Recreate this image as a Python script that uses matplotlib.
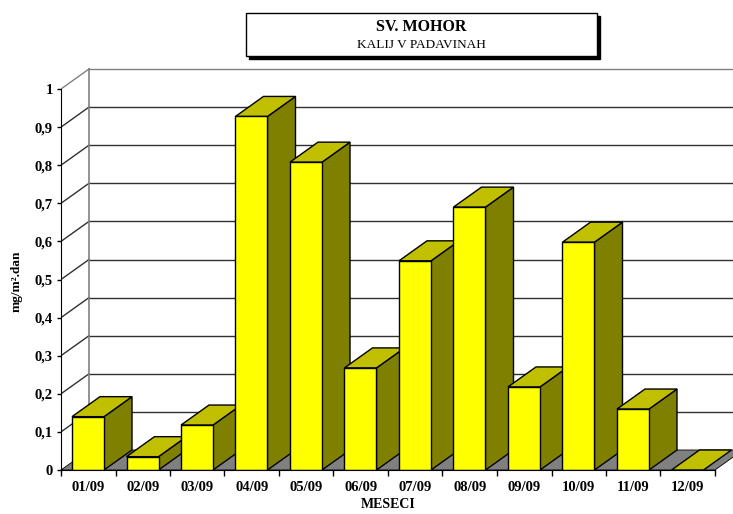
import numpy as np
import matplotlib
matplotlib.use('Agg')
import matplotlib.pyplot as plt
from matplotlib.patches import Polygon, Rectangle

plt.rcParams['font.family'] = ['Liberation Serif', 'DejaVu Serif']

months = ['01/09', '02/09', '03/09', '04/09', '05/09', '06/09',
          '07/09', '08/09', '09/09', '10/09', '11/09', '12/09']
values = [0.14, 0.035, 0.118, 0.928, 0.808, 0.268,
          0.549, 0.69, 0.218, 0.598, 0.16, 0.0]
y_ticks = [0, 0.1, 0.2, 0.3, 0.4, 0.5, 0.6, 0.7, 0.8, 0.9, 1.0]
y_ticklabels = ['0', '0,1', '0,2', '0,3', '0,4', '0,5',
                '0,6', '0,7', '0,8', '0,9', '1']

W, H = 733, 514
fig = plt.figure(figsize=(W / 100, H / 100), dpi=100)

# axes: x=0 at px 61, y=0 at px 470
left_px, right_px, bot_px, top_px = 61, 733, 470, 60
cat_px = 54.5
val_px = 381.0
ax = fig.add_axes([left_px / W, (H - bot_px) / H,
                   (right_px - left_px) / W, (bot_px - top_px) / H])
ax.set_xlim(0, (right_px - left_px) / cat_px)
ax.set_ylim(0, (bot_px - top_px) / val_px)
ax.patch.set_visible(False)

dx = 28 / cat_px
dy = 20 / val_px
n = len(months)
xr = ax.get_xlim()[1] + 1

# floor
ax.add_patch(Polygon([(0, 0), (n, 0), (n + dx, dy), (dx, dy)],
                     closed=True, facecolor='#808080', edgecolor='black',
                     linewidth=0.6, zorder=1, clip_on=False))

# back wall and side wall grid
for t in y_ticks[1:]:
    c = '#808080' if t == 1.0 else '#303030'
    ax.plot([dx, xr], [t + dy, t + dy], color=c, linewidth=1.0, zorder=0.5)
    ax.plot([0, dx], [t, t + dy], color=c, linewidth=1.0, zorder=0.5)
ax.plot([dx, dx], [dy, 1 + dy], color='#808080', linewidth=1.2, zorder=0.6)

# bars
bw = 32 / cat_px
off = 11 / cat_px
for i, v in enumerate(values):
    x0 = i + off
    z = 2 + i
    if v > 0:
        ax.bar(x0, v, width=bw, align='edge', color='#FFFF00',
               edgecolor='black', linewidth=1.0, zorder=z + 0.2)
        ax.add_patch(Polygon([(x0 + bw, 0), (x0 + bw + dx, dy),
                              (x0 + bw + dx, v + dy), (x0 + bw, v)],
                             closed=True, facecolor='#808000',
                             edgecolor='black', linewidth=1.0, zorder=z))
    ax.add_patch(Polygon([(x0, v), (x0 + bw, v), (x0 + bw + dx, v + dy),
                          (x0 + dx, v + dy)],
                         closed=True, facecolor='#C0C000',
                         edgecolor='black', linewidth=1.0, zorder=z + 0.1))

# axes lines and ticks
for s in ['top', 'right']:
    ax.spines[s].set_visible(False)
ax.spines['left'].set_bounds(0, 1)
ax.spines['bottom'].set_bounds(0, n)
ax.spines['left'].set_zorder(20)
ax.spines['bottom'].set_zorder(20)
ax.set_yticks(y_ticks)
ax.set_yticklabels(y_ticklabels, fontsize=10.5, fontweight='bold')
ax.set_xticks(np.arange(0, n + 1))
ax.set_xticklabels([])
ax.set_xticks(np.arange(n) + 0.5, minor=True)
ax.set_xticklabels(months, minor=True, fontsize=10.5, fontweight='bold')
ax.tick_params(axis='x', which='major', direction='out', length=4, width=1)
ax.tick_params(axis='x', which='minor', length=0, pad=8)
ax.tick_params(axis='y', direction='out', length=3, width=1, pad=3)

fig.text(388 / W, 1 - 505 / H, 'MESECI', ha='center', va='center',
         fontsize=10, fontweight='bold')
fig.text(17 / W, 1 - 281 / H, 'mg/m².dan', ha='center', va='center',
         rotation=90, fontsize=9.5, fontweight='bold')

# title box with shadow
bx0, by0, bx1, by1 = 246, 13, 597, 56
fig.patches.append(Rectangle(((bx0 + 3) / W, 1 - (by1 + 3) / H),
                             (bx1 - bx0) / W, (by1 - by0) / H,
                             transform=fig.transFigure, facecolor='black',
                             edgecolor='black', zorder=1))
fig.patches.append(Rectangle((bx0 / W, 1 - by1 / H),
                             (bx1 - bx0) / W, (by1 - by0) / H,
                             transform=fig.transFigure, facecolor='white',
                             edgecolor='black', linewidth=1.0, zorder=2))
fig.text(421 / W, 1 - 27 / H, 'SV. MOHOR', ha='center', va='center',
         fontsize=11.5, fontweight='bold', zorder=3)
fig.text(421 / W, 1 - 45 / H, 'KALIJ V PADAVINAH', ha='center', va='center',
         fontsize=9.5, zorder=3)

fig.savefig('out.png', dpi=100)
